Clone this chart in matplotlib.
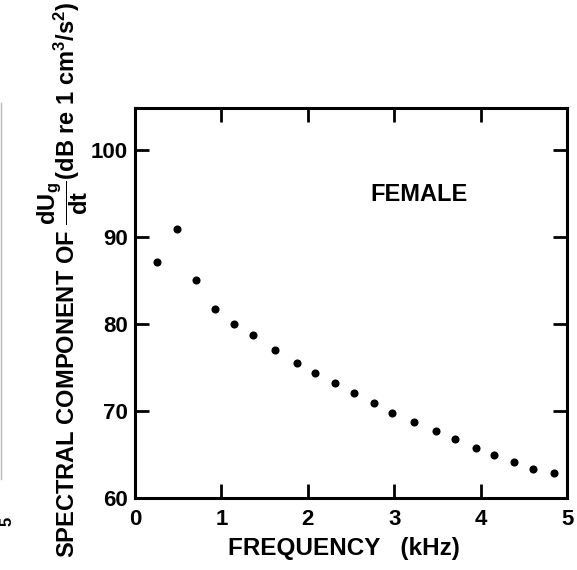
import numpy as np
import matplotlib
matplotlib.use('Agg')
import matplotlib.pyplot as plt
from matplotlib.lines import Line2D

# harmonic frequencies (kHz) and levels (dB)
freq_khz = [0.26, 0.48, 0.70, 0.92, 1.15, 1.36, 1.62, 1.87, 2.08, 2.31, 2.53,
            2.76, 2.97, 3.23, 3.48, 3.70, 3.94, 4.15, 4.38, 4.61, 4.85]
level_db = [87.1, 90.9, 85.0, 81.7, 80.0, 78.7, 77.0, 75.5, 74.4, 73.2, 72.1,
            70.9, 69.8, 68.7, 67.7, 66.8, 65.8, 65.0, 64.2, 63.4, 62.9]
x_ticks = [0, 1, 2, 3, 4, 5]
y_ticks = [60, 70, 80, 90, 100]

plt.rcParams['font.family'] = ['Liberation Sans', 'DejaVu Sans']
plt.rcParams['font.weight'] = 'bold'
plt.rcParams['mathtext.fontset'] = 'custom'
plt.rcParams['mathtext.rm'] = 'Liberation Sans:bold'
plt.rcParams['mathtext.it'] = 'Liberation Sans:bold'
plt.rcParams['mathtext.bf'] = 'Liberation Sans:bold'
plt.rcParams['mathtext.default'] = 'rm'

fig = plt.figure(figsize=(5.77, 5.70), dpi=100)
ax = fig.add_axes([0.234, 0.126, 0.749, 0.685])

ax.scatter(freq_khz, level_db, s=34, color='black', zorder=3, linewidths=0)

ax.set_xlim(0, 5)
ax.set_ylim(60, 104.8)
ax.set_xticks(x_ticks)
ax.set_yticks(y_ticks)
ax.tick_params(direction='in', length=10, width=2, top=True, right=True,
               labelsize=16)
ax.tick_params(axis='x', pad=8)
ax.tick_params(axis='y', pad=5)
for sp in ax.spines.values():
    sp.set_linewidth(2.2)

ax.set_xlabel('FREQUENCY   (kHz)', fontsize=17.5, fontweight='bold')
ax.xaxis.set_label_coords(0.484, -0.1)
ax.set_ylabel(r'SPECTRAL COMPONENT OF $\dfrac{dU_g}{dt}$(dB re 1 cm$^3$/s$^2$)',
              fontsize=17, fontweight='bold')
ax.yaxis.set_label_coords(-0.105, 0.56)

ax.text(3.29, 94.8, 'FEMALE', fontsize=17, fontweight='bold',
        ha='center', va='center')

# remnants of the neighbouring panel at the left edge
fig.add_artist(Line2D([0.001, 0.001], [0.16, 0.82], transform=fig.transFigure,
                      color='#bbbbbb', linewidth=1))
fig.text(0.0, 0.085, '5', fontsize=12, fontweight='bold', rotation=90,
         ha='left', va='center')

plt.savefig('out.png', dpi=100)
